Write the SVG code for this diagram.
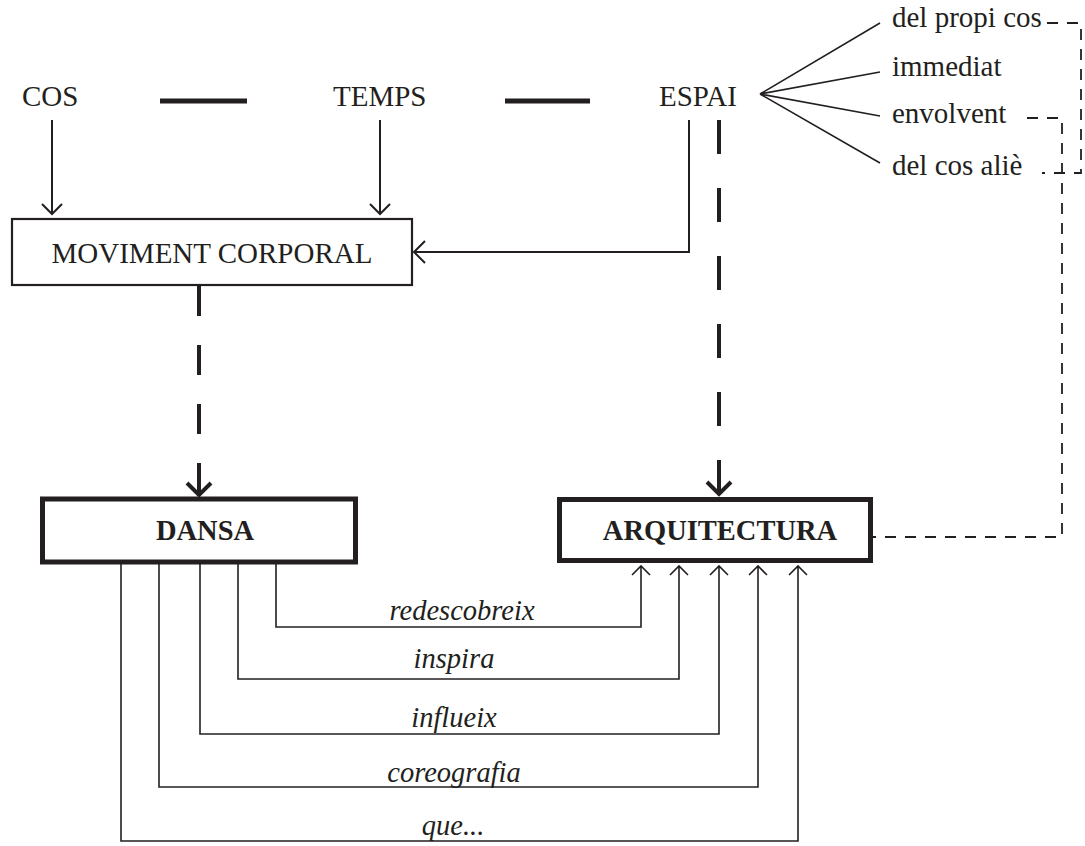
<svg xmlns="http://www.w3.org/2000/svg" width="1085" height="846" viewBox="0 0 1085 846">
<style>
.t{font-family:"Liberation Serif","Times New Roman",serif;font-size:29px;fill:#231f20}
.b{font-weight:bold;font-size:28.5px}
.i{font-style:italic;font-size:28.5px}
.ln{fill:none;stroke:#231f20;stroke-width:2}
.th{fill:none;stroke:#231f20;stroke-width:1.6}
.bold{fill:none;stroke:#231f20;stroke-width:5}
.bd{fill:none;stroke:#231f20;stroke-width:4}
.dl{fill:none;stroke:#231f20;stroke-width:1.8;stroke-dasharray:11 9}
</style>
<rect width="1085" height="846" fill="#fff"/>
<g id="cos"><text class="t" x="22" y="106">COS</text></g>
<g id="temps"><text class="t" x="333" y="106">TEMPS</text></g>
<g id="espai"><text class="t" x="659" y="106">ESPAI</text></g>
<g id="propi"><text class="t" x="892" y="27">del propi cos</text></g>
<g id="immediat"><text class="t" x="892" y="76">immediat</text></g>
<g id="envolvent"><text class="t" x="892" y="123">envolvent</text></g>
<g id="alie"><text class="t" x="892" y="175">del cos aliè</text></g>
<g id="moviment"><rect x="12" y="219" width="400" height="66" fill="#fff" stroke="#231f20" stroke-width="2.2"/><text class="t" x="212" y="263" text-anchor="middle">MOVIMENT CORPORAL</text></g>
<g id="dansa"><rect x="42.5" y="499" width="313" height="63" fill="#fff" class="bold"/><text class="t b" x="205" y="540" text-anchor="middle">DANSA</text></g>
<g id="arquitectura"><rect x="559.5" y="499.5" width="311" height="61" fill="#fff" class="bold"/><text class="t b" x="720" y="540" text-anchor="middle">ARQUITECTURA</text></g>
<g id="connectors">
<path class="bold" d="M160 101H247M505 101H590"/>
<path class="ln" d="M52 120V214M42 204L52 214L62 204"/>
<path class="ln" d="M380 120V214M370 204L380 214L390 204"/>
<path class="ln" d="M689 120V252H414M425 241L414 252L425 263"/>
<path class="th" d="M760 94L880 23M760 94L880 72M760 94L880 116M760 94L880 163"/>
<path class="dl" d="M1047 23H1081V173H1042"/>
<path class="dl" d="M1027 118H1062V537H873"/>
<path class="bd" d="M199 286V494" stroke-dasharray="30 29"/>
<path class="bd" d="M187 483L199 495L211 483"/>
<path class="bd" d="M719 120V494" stroke-dasharray="34 34"/>
<path class="bd" d="M707 482L719 494L731 482"/>
<path class="th" d="M276 564V627H641V566M632 575L641 566L650 575"/>
<path class="th" d="M238 564V679H679V566M670 575L679 566L688 575"/>
<path class="th" d="M200 564V734H719V566M710 575L719 566L728 575"/>
<path class="th" d="M159 564V787H758V566M749 575L758 566L767 575"/>
<path class="th" d="M121 564V841H798V566M789 575L798 566L807 575"/>
</g>
<g id="labels">
<text class="t i" x="462" y="620" text-anchor="middle">redescobreix</text>
<text class="t i" x="454" y="668" text-anchor="middle">inspira</text>
<text class="t i" x="454" y="727" text-anchor="middle">influeix</text>
<text class="t i" x="454" y="782" text-anchor="middle">coreografia</text>
<text class="t i" x="453" y="835" text-anchor="middle">que...</text>
</g>
</svg>
